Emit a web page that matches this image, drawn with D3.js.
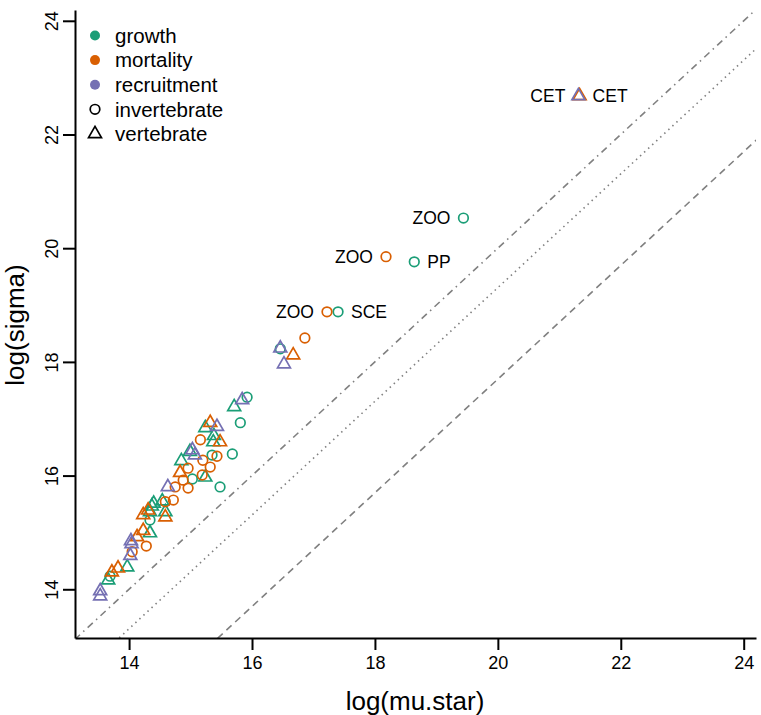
<!DOCTYPE html>
<html>
<head>
<meta charset="utf-8">
<script src="https://d3js.org/d3.v7.min.js"></script>
<style>
  body { margin: 0; background: #fff; }
  text { font-family: "Liberation Sans", Arial, sans-serif; }
</style>
</head>
<body>
<svg id="vis"></svg>

<script>
  // Data: [log(mu.star), log(sigma), label, label side]
  var growthInv = [
    [13.69, 14.23], [14.34, 15.22], [15.03, 15.94], [15.35, 16.36], [15.48, 15.80],
    [15.68, 16.38], [15.81, 16.93], [15.92, 17.38], [16.46, 18.23],
    [17.40, 18.88, 'SCE', 'right'], [18.64, 19.76, 'PP', 'right'], [19.44, 20.53, 'ZOO', 'left']
  ]
  var growthVert = [
    [13.66, 14.16], [13.97, 14.39], [14.34, 14.99], [14.34, 15.36], [14.37, 15.46],
    [14.40, 15.51], [14.54, 15.55], [14.59, 15.36], [14.85, 16.26], [14.99, 16.42],
    [15.24, 15.97], [15.24, 16.84], [15.37, 16.59], [15.38, 16.70], [15.71, 17.21]
  ]
  var mortalityInv = [
    [14.05, 14.66], [14.28, 14.76], [14.59, 15.54], [14.75, 15.80], [14.72, 15.57],
    [14.88, 15.92], [14.96, 16.13], [14.96, 15.78], [15.16, 16.63], [15.19, 16.01],
    [15.20, 16.27], [15.32, 16.15], [15.43, 16.34], [16.86, 18.42],
    [17.22, 18.88, 'ZOO', 'left'], [18.18, 19.85, 'ZOO', 'left']
  ]
  var mortalityVert = [
    [13.72, 14.30], [13.82, 14.37], [14.13, 14.92], [14.23, 15.03], [14.23, 15.31],
    [14.31, 15.39], [14.59, 15.27], [14.83, 16.05], [15.32, 16.93], [15.48, 16.59],
    [16.67, 18.12], [21.33, 22.68, 'CET', 'right']
  ]
  var recruitmentVert = [
    [13.53, 13.97], [13.53, 13.88], [14.02, 14.59], [14.03, 14.85], [14.04, 14.80],
    [14.63, 15.80], [15.03, 16.45], [15.07, 16.36], [15.43, 16.86], [15.84, 17.33],
    [16.46, 18.24], [16.52, 17.96], [21.31, 22.68, 'CET', 'left']
  ]

  var ticks = [14, 16, 18, 20, 22, 24]
  // reference lines y = x + offset  (offset 0, -log(2), -log(10))
  var refOffsets = [0, -Math.log(2), -Math.log(10)]
  var refDash = ['1.5,4.5,7,4.5', '1.5,4', '7,5']

  var legendNames = ['growth', 'mortality', 'recruitment', 'invertebrate', 'vertebrate']
  var colors = { growth: '#1B9E77', mortality: '#D95F02', recruitment: '#7570B3' }

  var svg = d3.select('#vis')
    .attr('width', 761)
    .attr('height', 715)

  var x = d3.scaleLinear().domain([13.12, 24.2]).range([75, 756])
  var y = d3.scaleLinear().domain([13.143, 24.19]).range([638, 10])

  // clip for reference lines
  svg.append('clipPath').attr('id', 'plotclip')
    .append('rect')
    .attr('x', 75).attr('y', 10)
    .attr('width', 681).attr('height', 628)

  var lineGen = d3.line().x(function(d) { return x(d[0]) }).y(function(d) { return y(d[1]) })

  refOffsets.forEach(function(off, i) {
    var pts = [[12, 12 + off], [26, 26 + off]]
    svg.append('path')
      .attr('d', lineGen(pts))
      .attr('clip-path', 'url(#plotclip)')
      .attr('stroke', '#808080')
      .attr('stroke-width', 1.6)
      .attr('stroke-dasharray', refDash[i])
      .attr('fill', 'none')
  })

  // Axes
  var xAxis = svg.append('g')
    .attr('transform', 'translate(0,638)')
    .call(d3.axisBottom(x).tickValues(ticks).tickSize(12).tickSizeOuter(0).tickPadding(6))
  var yAxis = svg.append('g')
    .attr('transform', 'translate(75,0)')
    .call(d3.axisLeft(y).tickValues(ticks).tickSize(12).tickSizeOuter(0))

  ;[xAxis, yAxis].forEach(function(a) {
    a.select('.domain').attr('stroke', '#000').attr('stroke-width', 2)
    a.selectAll('.tick line').attr('stroke', '#000').attr('stroke-width', 2)
    a.selectAll('text').attr('fill', '#000').style('font-size', '18px')
      .style('font-family', '"Liberation Sans", Arial, sans-serif')
  })

  // rotated y tick labels (as in base R)
  yAxis.selectAll('.tick text')
    .attr('x', null).attr('dy', null)
    .attr('text-anchor', 'middle')
    .attr('transform', 'translate(-17,0) rotate(-90)')

  svg.append('text')
    .attr('x', 415).attr('y', 710)
    .attr('text-anchor', 'middle')
    .style('font-size', '26px')
    .text('log(mu.star)')

  svg.append('text')
    .attr('transform', 'translate(24,325) rotate(-90)')
    .attr('text-anchor', 'middle')
    .style('font-size', '26px')
    .text('log(sigma)')

  // markers
  var R = 4.8
  function triPath(r) {
    var top = 1.555 * r, hw = 1.347 * r, base = 0.777 * r
    return 'M0,' + (-top) + 'L' + hw + ',' + base + 'L' + (-hw) + ',' + base + 'Z'
  }

  function drawSet(data, color, shape) {
    var g = svg.append('g')
    if (shape === 'circle') {
      g.selectAll('circle').data(data).enter().append('circle')
        .attr('cx', function(d) { return x(d[0]) })
        .attr('cy', function(d) { return y(d[1]) })
        .attr('r', R)
        .attr('fill', 'none')
        .attr('stroke', color)
        .attr('stroke-width', 1.7)
    } else {
      g.selectAll('path').data(data).enter().append('path')
        .attr('transform', function(d) { return 'translate(' + x(d[0]) + ',' + y(d[1]) + ')' })
        .attr('d', triPath(R))
        .attr('fill', 'none')
        .attr('stroke', color)
        .attr('stroke-width', 1.7)
    }
    g.selectAll('text').data(data.filter(function(d) { return d[2] })).enter().append('text')
      .attr('x', function(d) { return x(d[0]) + (d[3] === 'left' ? -13 : 13) })
      .attr('y', function(d) { return y(d[1]) })
      .attr('dy', '0.36em')
      .attr('text-anchor', function(d) { return d[3] === 'left' ? 'end' : 'start' })
      .style('font-size', '17.5px')
      .text(function(d) { return d[2] })
  }

  drawSet(growthInv, colors.growth, 'circle')
  drawSet(growthVert, colors.growth, 'triangle')
  drawSet(mortalityInv, colors.mortality, 'circle')
  drawSet(mortalityVert, colors.mortality, 'triangle')
  drawSet(recruitmentVert, colors.recruitment, 'triangle')

  // legend
  var leg = svg.append('g')
  legendNames.forEach(function(name, i) {
    var ly = 35.5 + i * 24.6
    if (i < 3) {
      leg.append('circle').attr('cx', 95).attr('cy', ly).attr('r', 5)
        .attr('fill', colors[name])
    } else if (i === 3) {
      leg.append('circle').attr('cx', 95).attr('cy', ly).attr('r', R)
        .attr('fill', 'none').attr('stroke', '#000').attr('stroke-width', 1.7)
    } else {
      leg.append('path').attr('transform', 'translate(95,' + ly + ')')
        .attr('d', triPath(R))
        .attr('fill', 'none').attr('stroke', '#000').attr('stroke-width', 1.7)
    }
    leg.append('text').attr('x', 115).attr('y', ly).attr('dy', '0.36em')
      .style('font-size', '20.5px')
      .text(name)
  })
</script>
</body>
</html>
